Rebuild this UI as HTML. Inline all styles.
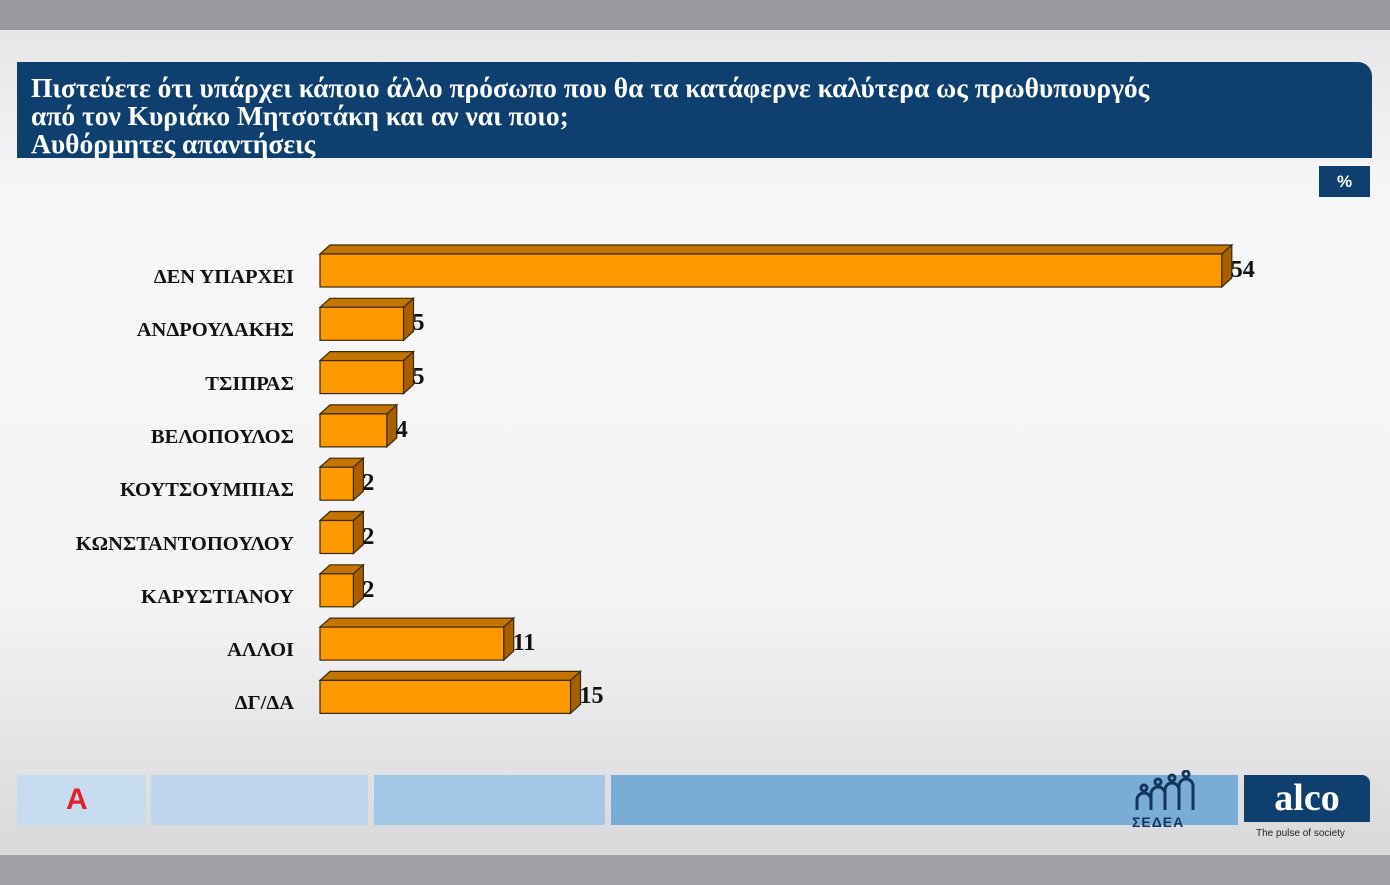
<!DOCTYPE html>
<html><head><meta charset="utf-8"><style>
body{margin:0;width:1390px;height:885px;overflow:hidden;position:relative;font-family:"Liberation Serif",serif;
background:linear-gradient(180deg,#e6e6e8 30px,#f7f7f8 200px,#f4f4f5 600px,#d9d9dc 850px);}
.top{position:absolute;left:0;top:0;width:1390px;height:30px;background:#99989d;}
.bot{position:absolute;left:0;top:855px;width:1390px;height:30px;background:#a0a0a4;}
.title{position:absolute;left:17px;top:62px;width:1355px;height:96px;background:#0e3f6e;border-top-right-radius:14px;color:#fff;font-weight:bold;font-size:27.5px;line-height:28px;box-sizing:border-box;padding:12px 0 0 14px;white-space:nowrap;overflow:hidden}
.pct{position:absolute;left:1319px;top:166px;width:51px;height:31px;background:#0e3f6e;color:#fff;font:bold 17px "Liberation Sans",sans-serif;text-align:center;line-height:31px;}
.lab{position:absolute;right:1096px;font-weight:bold;font-size:20.5px;color:#111;white-space:nowrap}
.val{position:absolute;font-weight:bold;font-size:24px;color:#111}
.fb{position:absolute;top:775px;height:50px}
</style></head><body>
<div class="top"></div><div class="bot"></div>
<div class="title">Πιστεύετε ότι υπάρχει κάποιο άλλο πρόσωπο που θα τα κατάφερνε καλύτερα ως πρωθυπουργός<br>από τον Κυριάκο Μητσοτάκη και αν ναι ποιο;<br>Αυθόρμητες απαντήσεις</div>
<div class="pct">%</div>
<svg style="position:absolute;left:0;top:0" width="1390" height="885">
<g stroke="#3a2a10" stroke-width="1.2">
<g id="bars"></g>
</g></svg>
<div id="labels"></div>
<div class="fb" style="left:17px;width:129px;background:#c7dcef"></div>
<div class="fb" style="left:151px;width:217px;background:#bcd5ec"></div>
<div class="fb" style="left:374px;width:231px;background:#a3c7e6"></div>
<div class="fb" style="left:611px;width:627px;background:#79acd6"></div>
<div style="position:absolute;left:66px;top:785px;width:26px;height:34px;color:#e3202a;font:bold 30px 'Liberation Sans',sans-serif;line-height:30px">A</div>
<div style="position:absolute;left:1132px;top:814px;font:bold 14px 'Liberation Sans',sans-serif;color:#12355c;letter-spacing:1px">ΣΕΔΕΑ</div>
<svg style="position:absolute;left:1134px;top:770px" width="70" height="44" fill="none" stroke="#12355c" stroke-width="3"><circle cx="10" cy="18" r="3"/><circle cx="24" cy="12" r="3"/><circle cx="38" cy="8" r="3"/><circle cx="52" cy="4" r="3"/><path d="M3 40V30a7 7 0 0114 0v10M17 40V24a7 7 0 0114 0v16M31 40V20a7 7 0 0114 0v20M45 40V16a7 7 0 0114 0v24"/></svg>
<div style="position:absolute;left:1244px;top:775px;width:126px;height:47px;background:#0e3f6e;border-top-right-radius:8px;color:#fff;font:bold 38px 'Liberation Serif',serif;text-align:center;line-height:46px">alco</div>
<div style="position:absolute;left:1256px;top:828px;font:10px 'Liberation Sans',sans-serif;color:#222">The pulse of society</div>
<script>
var d=[["ΔΕΝ ΥΠΑΡΧΕΙ",54],["ΑΝΔΡΟΥΛΑΚΗΣ",5],["ΤΣΙΠΡΑΣ",5],["ΒΕΛΟΠΟΥΛΟΣ",4],["ΚΟΥΤΣΟΥΜΠΙΑΣ",2],["ΚΩΝΣΤΑΝΤΟΠΟΥΛΟΥ",2],["ΚΑΡΥΣΤΙΑΝΟΥ",2],["ΑΛΛΟΙ",11],["ΔΓ/ΔΑ",15]];
var g=document.getElementById("bars"),L=document.getElementById("labels"),s="",h="";
d.forEach(function(r,i){var c=270+i*53.3,y=c-16,H=33,x=320,w=r[1]*16.7,dx=10,dy=9;
s+='<polygon fill="#c47400" points="'+x+','+y+' '+(x+dx)+','+(y-dy)+' '+(x+w+dx)+','+(y-dy)+' '+(x+w)+','+y+'"/>';
s+='<polygon fill="#a85f00" points="'+(x+w)+','+y+' '+(x+w+dx)+','+(y-dy)+' '+(x+w+dx)+','+(y+H-dy)+' '+(x+w)+','+(y+H)+'"/>';
s+='<rect fill="#ff9900" x="'+x+'" y="'+y+'" width="'+w+'" height="'+H+'"/>';
h+='<div class="lab" style="top:'+(c-4)+'px">'+r[0]+'</div><div class="val" style="left:'+(x+w+9)+'px;top:'+(c-13)+'px">'+r[1]+'</div>';});
g.innerHTML=s;L.innerHTML=h;
</script>
</body></html>
